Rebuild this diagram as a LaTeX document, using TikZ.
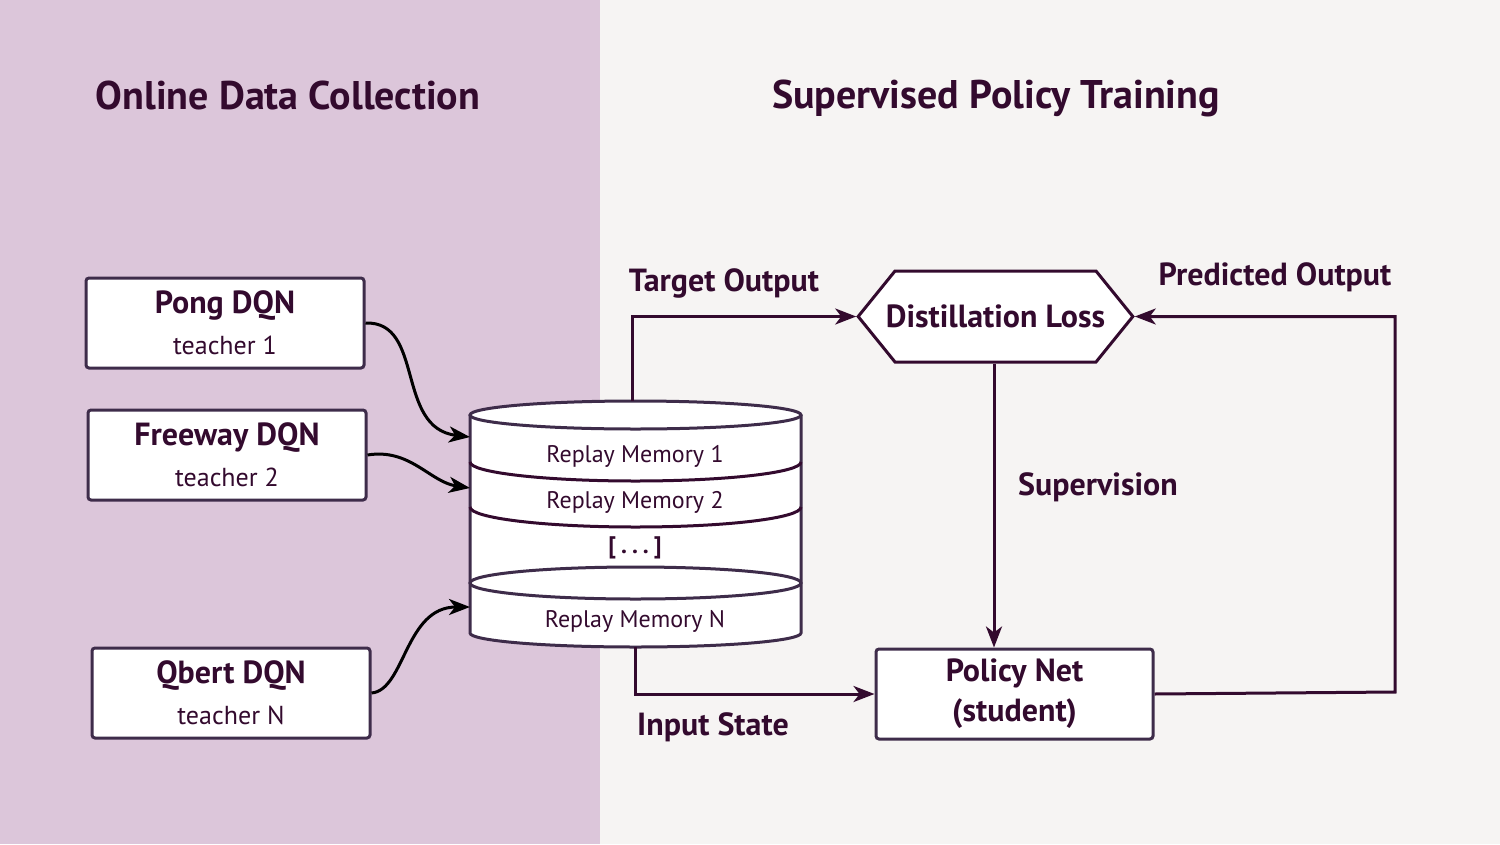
\documentclass[tikz,border=0pt]{standalone}
\usepackage{fontspec}
\setmainfont{PT Sans}
\usetikzlibrary{positioning,shapes.symbols,arrows.meta}

\definecolor{plum}{HTML}{330A2E}
\definecolor{boxline}{HTML}{3E2C4A}
\definecolor{leftbg}{HTML}{DCC6DA}
\definecolor{rightbg}{HTML}{F6F4F3}

\begin{document}
\begin{tikzpicture}[x=1pt, y=-1pt, >={Stealth[length=21pt, width=16pt, inset=6pt]},
    title/.style={text=plum, font=\fontsize{40}{46}\selectfont\bfseries},
    tag/.style={text=plum, font=\fontsize{32}{38}\selectfont\bfseries},
    netbox/.style={draw=boxline, line width=3pt, fill=white, rounded corners=3pt,
        minimum width=278pt, minimum height=90pt, align=center, text=plum, inner sep=0pt,
        font=\fontsize{26}{41}\selectfont},
    memtext/.style={text=plum, font=\fontsize{24}{28}\selectfont},
    feed/.style={->, black, line width=3pt},
    flow/.style={->, plum, line width=3pt}]
    \useasboundingbox (0,0) rectangle (1500,844);

    % Backgrounds
    \fill[leftbg] (0,0) rectangle (600,844);
    \fill[rightbg] (600,0) rectangle (1500,844);

    % Titles
    \node[title] (online) at (288,95) {Online Data Collection};
    \node[title] (training) at (996,98) {Supervised Policy Training};

    % Teachers
    \node[netbox] (pong) at (225,323) {{\fontsize{32}{41}\selectfont\bfseries Pong DQN}\\teacher 1};
    \node[netbox] (freeway) at (227,455) {{\fontsize{32}{41}\selectfont\bfseries Freeway DQN}\\teacher 2};
    \node[netbox] (qbert) at (231,693) {{\fontsize{32}{41}\selectfont\bfseries Qbert DQN}\\teacher N};

    % Replay memory cylinder
    \filldraw[fill=white, draw=boxline, line width=3pt] (470,415) -- (470,633)
        arc[start angle=180, end angle=360, x radius=165.5pt, y radius=14pt] -- (801,415);
    \filldraw[fill=white, draw=boxline, line width=3pt] (635.5,415)
        ellipse[x radius=165.5pt, y radius=14pt];
    \draw[plum, line width=3pt] (470,462)
        arc[start angle=180, end angle=360, x radius=165.5pt, y radius=19pt];
    \draw[plum, line width=3pt] (470,507)
        arc[start angle=180, end angle=360, x radius=165.5pt, y radius=20pt];
    \draw[boxline, line width=3pt] (635.5,583) ellipse[x radius=165.5pt, y radius=16pt];

    \node[memtext] (mem1) at (635,456) {Replay Memory 1};
    \node[memtext] (mem2) at (635,502) {Replay Memory 2};
    \node[memtext, font=\fontsize{24}{28}\selectfont\bfseries] (memdots) at (635,548)
        {[\hspace{5pt}.\hspace{5pt}.\hspace{5pt}.\hspace{5pt}]};
    \node[memtext] (memN) at (635,621) {Replay Memory N};

    \coordinate (in1) at (470,437);
    \coordinate (in2) at (470,488);
    \coordinate (inN) at (470,607);
    \coordinate (memtop) at (632,401);
    \coordinate (membot) at (635,647);

    % Teachers fill the memory
    \draw[feed] (pong.east) .. controls (425,321) and (395,428) .. (in1);
    \draw[feed] (freeway.east) .. controls (410,448) and (430,482) .. (in2);
    \draw[feed] (qbert.east) .. controls (405,690) and (405,607) .. (inN);

    % Student side
    \node[signal, signal to=west and east, signal pointer angle=102, draw=plum, line width=3pt,
        fill=white, minimum height=91pt, inner sep=0pt,
        text=plum, font=\fontsize{32}{38}\selectfont\bfseries] (loss) at (995.5,316.5)
        {\makebox[201pt][c]{Distillation Loss}};
    \node[netbox, minimum width=277pt, font=\fontsize{32}{40}\selectfont\bfseries]
        (policy) at (1014.5,694) {Policy Net\\(student)};
    \coordinate (predcorner) at (1395,692);

    \draw[flow] (memtop) |- (loss.west);
    \draw[flow] (policy.east) -- (predcorner) |- (loss.east);
    \draw[flow] (loss.south -| 994,0) -- (policy.north -| 994,0);
    \draw[flow] (membot) |- (policy.west);

    % Labels
    \node[tag] (target) at (724,283) {Target Output};
    \node[tag] (predicted) at (1275,277) {Predicted Output};
    \node[tag] (supervision) at (1098,487) {Supervision};
    \node[tag] (input) at (713,727) {Input State};
\end{tikzpicture}
\end{document}
